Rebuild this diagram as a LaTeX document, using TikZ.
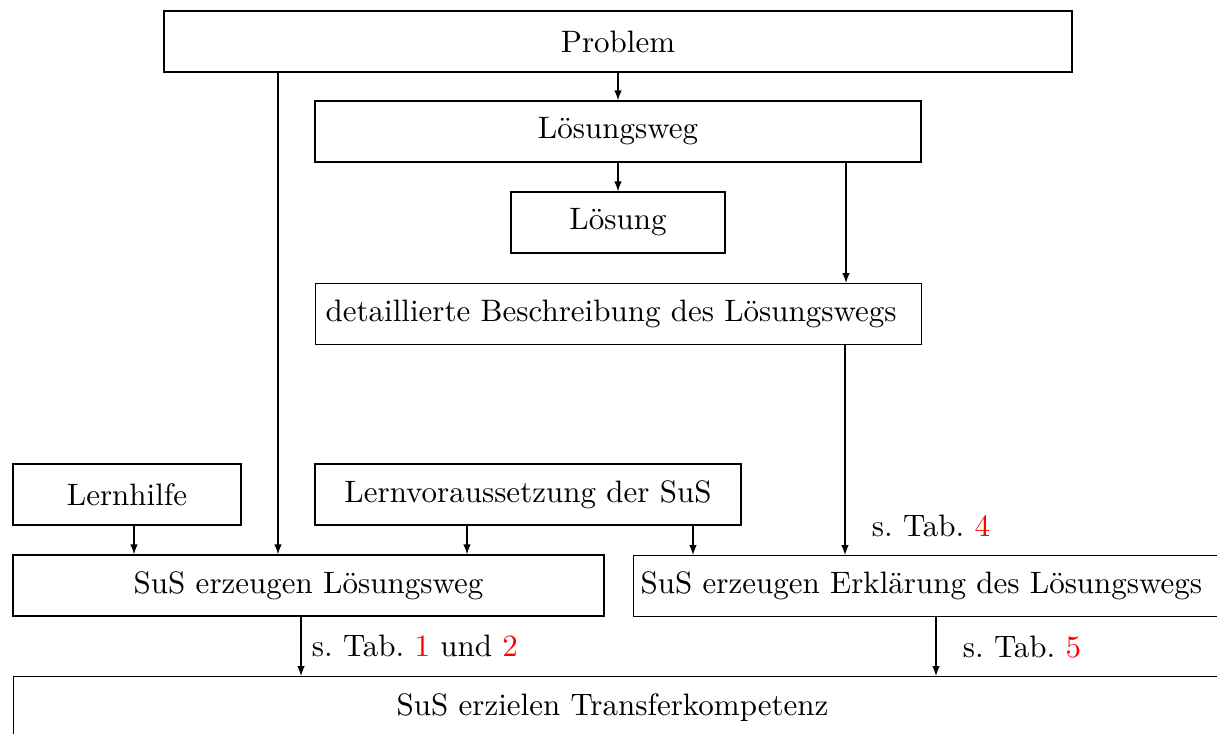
\documentclass[tikz,border=0pt]{standalone}
\usetikzlibrary{arrows.meta}
\newcommand{\pxu}{0.3226pt}
\begin{document}
\frenchspacing
\begin{tikzpicture}[x=\pxu, y=-\pxu,
  box/.style={draw, inner sep=0pt, minimum height=61*\pxu, align=center},
  leftbox/.style={draw, inner ysep=0pt, minimum height=61*\pxu, align=left, anchor=north west},
  arr/.style={-{Latex[length=3.2pt,width=2.4pt]}},
  tab/.style={right}]
\clip (0,0) rectangle (1217,734);
\node[box, minimum width=908*\pxu] (prob) at (618,41.5) {Problem};
\node[box, minimum width=606*\pxu] (lw) at (618,131.5) {Lösungsweg};
\node[box, minimum width=214*\pxu] (lsg) at (618,222.5) {Lösung};
\node[leftbox, inner xsep=10*\pxu, text width=586*\pxu] (det) at (315,283) {\mbox{detaillierte Beschreibung des Lösungswegs}};
\node[box, minimum width=228*\pxu] (lh) at (127,494.5) {Lernhilfe};
\node[box, minimum width=426*\pxu] (lv) at (528,494.5) {Lernvoraussetzung der SuS};
\node[box, minimum width=591*\pxu] (sl) at (308.5,585.5) {SuS erzeugen Lösungsweg};
\node[leftbox, inner xsep=7*\pxu, text width=620*\pxu] (se) at (633,555) {\mbox{SuS erzeugen Erklärung des Lösungswegs}};
\node[leftbox, inner xsep=383*\pxu, text width=500*\pxu] (bot) at (13,676) {\mbox{SuS erzielen Transferkompetenz}};
\draw[arr] (prob.south -| 618,0) -- (lw.north -| 618,0);
\draw[arr] (lw.south -| 618,0) -- (lsg.north -| 618,0);
\draw[arr] (lw.south -| 846,0) -- (det.north -| 846,0);
\draw[arr] (prob.south -| 278,0) -- (sl.north -| 278,0);
\draw[arr] (lh.south -| 134,0) -- (sl.north -| 134,0);
\draw[arr] (lv.south -| 467,0) -- (sl.north -| 467,0);
\draw[arr] (lv.south -| 693,0) -- (se.north -| 693,0);
\draw[arr] (det.south -| 845,0) -- node[tab, pos=0.86, xshift=16*\pxu] {s.\ Tab.\ \textcolor{red}{4}} (se.north -| 845,0);
\draw[arr] (sl.south -| 301,0) -- node[tab, midway] {s.\ Tab.\ \textcolor{red}{1} und \textcolor{red}{2}} (bot.north -| 301,0);
\draw[arr] (se.south -| 936,0) -- node[tab, midway, xshift=16*\pxu] {s.\ Tab.\ \textcolor{red}{5}} (bot.north -| 936,0);
\end{tikzpicture}
\end{document}
